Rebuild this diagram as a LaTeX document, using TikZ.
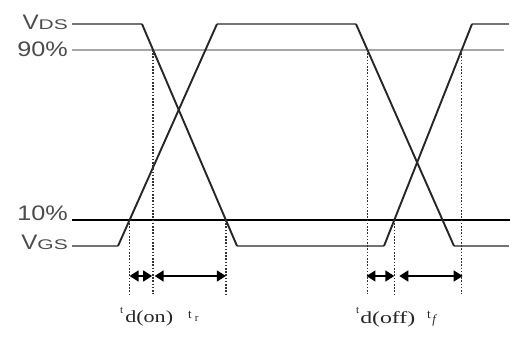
\documentclass[tikz,border=0pt]{standalone}
\usepackage{graphicx}
\usepackage{fontspec}
\setmainfont{Liberation Serif}
\newfontfamily\labfont{Liberation Sans}
\usetikzlibrary{arrows.meta,calc}
\begin{document}
\begin{tikzpicture}[x=1pt,y=-1pt,
  hline/.style={draw=black!55,line width=2.2pt},
  sline/.style={draw=black!85,line width=1.9pt},
  lvlhi/.style={draw=black!35,line width=2.4pt},
  lvllo/.style={draw=black,line width=2pt},
  guide/.style={draw=black!80,line width=1.3pt,dash pattern=on 1.6pt off 1.6pt},
  span/.style={draw=black,line width=1.5pt,{Triangle[length=9pt,width=11pt]}-{Triangle[length=9pt,width=11pt]}},
  ylab/.style={anchor=base east,inner sep=0pt,text=black!70,font=\labfont\fontsize{21}{21}\selectfont},
  tlab/.style={anchor=base west,inner sep=0pt,text=black!85}
]
\useasboundingbox (0,0) rectangle (514,339);
% level lines
\coordinate (h1) at (72,50);  \coordinate (h2) at (504,50);
\coordinate (l1) at (72,220); \coordinate (l2) at (510,220);
\draw[lvlhi] (h1) -- (h2);
\draw[lvllo] (l1) -- (l2);
% trace A
\coordinate (a0) at (72,24);  \coordinate (a1) at (142,24);
\coordinate (a2) at (237,246); \coordinate (a3) at (384,246);
\coordinate (a4) at (472,24); \coordinate (a5) at (509,24);
% trace B
\coordinate (b0) at (72,246); \coordinate (b1) at (118,246);
\coordinate (b2) at (217,24); \coordinate (b3) at (356,24);
\coordinate (b4) at (454,246); \coordinate (b5) at (509,246);
\draw[hline] (a0) -- (a1) (a2) -- (a3) (a4) -- (a5);
\draw[hline] (b0) -- (b1) (b2) -- (b3) (b4) -- (b5);
\draw[sline] (a1) -- (a2) (a3) -- (a4);
\draw[sline] (b1) -- (b2) (b3) -- (b4);
% crossing points
\coordinate (c1) at ($(b1)!0.117!(b2)$);
\coordinate (c2) at ($(a1)!0.117!(a2)$);
\coordinate (c3) at ($(a1)!0.883!(a2)$);
\coordinate (c4) at ($(b3)!0.117!(b4)$);
\coordinate (c5) at ($(a3)!0.117!(a4)$);
\coordinate (c6) at ($(a3)!0.883!(a4)$);
\coordinate (bot) at (0,294);
\foreach \c in {c1,c2,c3,c4,c5,c6} \draw[guide] (\c) -- (\c |- bot);
% spans
\coordinate (s1) at ($(c1 |- 0,276)$);
\coordinate (s2) at ($(c2 |- 0,276)+(-1,0)$);
\coordinate (s2b) at ($(c2 |- 0,276)+(1.5,0)$);
\coordinate (s3) at ($(c3 |- 0,276)$);
\coordinate (s4) at ($(c4 |- 0,276)+(-1,0)$);
\coordinate (s5) at ($(c5 |- 0,276)$);
\coordinate (s5b) at ($(c5 |- 0,276)+(5,0)$);
\coordinate (s6) at ($(c6 |- 0,276)+(1,0)$);
\draw[span] (s1) -- (s2);
\draw[span] (s2b) -- (s3);
\draw[span] (s4) -- (s5);
\draw[span] (s5b) -- (s6);
% level labels
\node[ylab] (vds) at (68,30) {\scalebox{1.15}[1]{V}\scalebox{1.5}[1]{\fontsize{14}{14}\selectfont DS}};
\node[ylab] (p90) at (68,57) {\scalebox{1.2}[1]{90\%}};
\node[ylab] (p10) at (68,221) {\scalebox{1.2}[1]{10\%}};
\node[ylab] (vgs) at (68,250) {\scalebox{1.15}[1]{V}\scalebox{1.5}[1]{\fontsize{14}{14}\selectfont GS}};
% time labels
\node[tlab] (tdon) at (120,313) {\fontsize{11}{11}\selectfont t\hspace{2pt}\raisebox{-9pt}{\scalebox{1.3}[1]{\fontsize{17}{17}\selectfont d(on)}}};
\node[tlab] (tr) at (188,318) {\fontsize{13}{13}\selectfont t\hspace{3pt}\raisebox{-3pt}{\fontsize{11}{11}\selectfont r}};
\node[tlab] (tdoff) at (356,313) {\fontsize{11}{11}\selectfont t\hspace{1pt}\raisebox{-10pt}{\scalebox{1.4}[1]{\fontsize{17}{17}\selectfont d(off)}}};
\node[tlab] (tf) at (427,318) {\fontsize{13}{13}\selectfont t\hspace{1.5pt}\raisebox{-5pt}{\fontsize{12.5}{12.5}\selectfont\itshape f}};
\end{tikzpicture}
\end{document}
